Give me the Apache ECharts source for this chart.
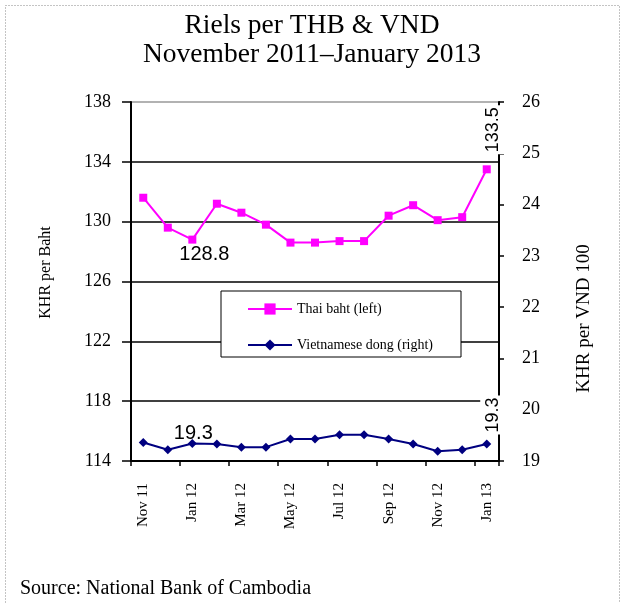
<!DOCTYPE html>
<html>
<head>
<meta charset="utf-8">
<script src="https://cdn.jsdelivr.net/npm/echarts@6/dist/echarts.min.js"></script>
<style>
html,body{margin:0;padding:0;background:#fff;}
#c{width:624px;height:603px;}
</style>
</head>
<body>
<div id="c"></div>
<script>
const months = ['Nov 11','Dec 11','Jan 12','Feb 12','Mar 12','Apr 12','May 12','Jun 12','Jul 12','Aug 12','Sep 12','Oct 12','Nov 12','Dec 12','Jan 13'];
const thaiBaht = [131.6, 129.6, 128.8, 131.2, 130.6, 129.8, 128.6, 128.6, 128.7, 128.7, 130.4, 131.1, 130.1, 130.3, 133.5];
const vietDong = [19.36, 19.22, 19.34, 19.33, 19.27, 19.27, 19.43, 19.43, 19.51, 19.51, 19.43, 19.33, 19.19, 19.22, 19.33];
const leftTicks = {min: 114, max: 138, step: 4};
const rightTicks = {min: 19, max: 26, step: 1};
const labelMinIdx = 2;   // Jan 12
const labelLastIdx = 14; // Jan 13

const SERIF = '"Liberation Serif", "Times New Roman", serif';
const SANS = '"Liberation Sans", Arial, sans-serif';

function rotLabel(dist) {
  return {
    show: true, position: 'top', distance: dist, rotate: 90, offset: [-7, 6],
    align: 'left', verticalAlign: 'middle',
    fontFamily: SANS, fontSize: 18, color: '#000', lineHeight: 18,
    backgroundColor: '#fff', padding: [7, 2, 0, 2],
    formatter: p => Number(p.value).toFixed(1)
  };
}

const thaiData = thaiBaht.map((v, i) => {
  if (i === labelMinIdx) return {value: v, label: {show: true, position: 'bottom', distance: 1, offset: [12, 0],
    fontFamily: SANS, fontSize: 20, color: '#000', formatter: p => Number(p.value).toFixed(1)}};
  if (i === labelLastIdx) return {value: v, label: rotLabel(18)};
  return v;
});
const vndData = vietDong.map((v, i) => {
  if (i === labelMinIdx) return {value: v, label: {show: true, position: 'top', distance: 0, offset: [1, 4],
    fontFamily: SANS, fontSize: 20, color: '#000', formatter: p => Number(p.value).toFixed(1)}};
  if (i === labelLastIdx) return {value: v, label: rotLabel(12)};
  return v;
});

const chart = echarts.init(document.getElementById('c'), null, {renderer: 'canvas'});
chart.setOption({
  backgroundColor: '#fff',
  animation: false,
  title: {
    text: 'Riels per THB & VND\nNovember 2011\u2013January 2013',
    left: 'center', top: 6,
    textStyle: {fontFamily: SERIF, fontSize: 27.5, fontWeight: 'normal', color: '#000', lineHeight: 29}
  },
  legend: {
    orient: 'vertical', left: 221, top: 291,
    padding: [11, 28, 5, 26], itemGap: 22, itemWidth: 44, itemHeight: 14, itemTextGap: 7,
    backgroundColor: '#fff', borderColor: '#000', borderWidth: 1,
    textStyle: {fontFamily: SERIF, fontSize: 14, color: '#000'},
    data: ['Thai baht (left)', 'Vietnamese dong (right)']
  },
  grid: {left: 131, right: 125, top: 102, bottom: 142, containLabel: false},
  xAxis: {
    type: 'category', data: months, boundaryGap: true,
    axisLine: {lineStyle: {color: '#000', width: 2}},
    axisTick: {show: true, interval: 1, length: 5, lineStyle: {color: '#000', width: 1.5}},
    axisLabel: {interval: 1, rotate: 90, margin: 22, fontFamily: SERIF, fontSize: 15, color: '#000'},
    splitLine: {show: false}
  },
  yAxis: [{
    type: 'value', position: 'left', min: leftTicks.min, max: leftTicks.max, interval: leftTicks.step,
    name: 'KHR per Baht', nameLocation: 'middle', nameRotate: 90, nameGap: 77,
    nameTextStyle: {fontFamily: SERIF, fontSize: 16, color: '#000', padding: [0, 0, 0, 18]},
    axisLine: {show: true, lineStyle: {color: '#000', width: 2}},
    axisTick: {show: true, length: 9, lineStyle: {color: '#000', width: 1.5}},
    axisLabel: {margin: 20, fontFamily: SERIF, fontSize: 18, color: '#000'},
    splitLine: {show: true, lineStyle: {color: ['#000', '#000', '#000', '#000', '#000', '#000', '#999'], width: 1.5}}
  }, {
    type: 'value', position: 'right', min: rightTicks.min, max: rightTicks.max, interval: rightTicks.step,
    name: 'KHR per VND 100', nameLocation: 'middle', nameRotate: 90, nameGap: 76,
    nameTextStyle: {fontFamily: SERIF, fontSize: 19, color: '#000', padding: [0, 74, 0, 0]},
    axisLine: {show: true, lineStyle: {color: '#000', width: 2}},
    axisTick: {show: true, length: 5, lineStyle: {color: '#000', width: 1.5}},
    axisLabel: {margin: 23, fontFamily: SERIF, fontSize: 18, color: '#000'},
    splitLine: {show: false}
  }],
  series: [{
    name: 'Thai baht (left)', type: 'line', yAxisIndex: 0, data: thaiData,
    symbol: 'rect', symbolSize: 8,
    lineStyle: {color: '#FF00FF', width: 2}, itemStyle: {color: '#FF00FF'}, z: 3
  }, {
    name: 'Vietnamese dong (right)', type: 'line', yAxisIndex: 1, data: vndData,
    symbol: 'diamond', symbolSize: 9,
    lineStyle: {color: '#000080', width: 2}, itemStyle: {color: '#000080'}, z: 3
  }],
  graphic: [{
    type: 'rect', left: 3, top: 3, silent: true, z: -1,
    shape: {width: 614, height: 610},
    style: {fill: 'none', stroke: '#888', lineWidth: 1, lineDash: [1, 2]}
  }, {
    type: 'text', left: 20, top: 579,
    style: {text: 'Source: National Bank of Cambodia', font: '20px ' + SERIF, fill: '#000'}
  }]
});
</script>
</body>
</html>
